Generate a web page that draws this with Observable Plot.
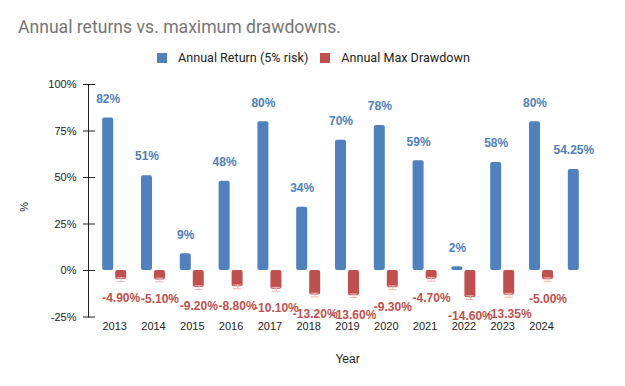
<!DOCTYPE html>
<html><head><meta charset="utf-8">
<script src="https://cdn.jsdelivr.net/npm/d3@7"></script>
<script src="https://cdn.jsdelivr.net/npm/@observablehq/plot@0.6"></script>
<style>
body{margin:0;background:#fff;}
#wrap{width:625px;height:386px;position:relative;overflow:hidden;background:#fff;}
#title{position:absolute;left:18px;top:17px;font:17.6px Roboto, sans-serif;color:#757575;white-space:nowrap;}
#legend{position:absolute;top:50px;left:157px;display:flex;align-items:center;font:12.6px Roboto, sans-serif;color:#222;white-space:nowrap;}
#legend .sw{width:10px;height:10px;display:inline-block;margin-right:11px;}
#legend .item{display:flex;align-items:center;margin-right:12px;}
#chart{position:absolute;top:70px;left:0;}
</style>
</head><body>
<div id="wrap">
<div id="title">Annual returns vs. maximum drawdowns.</div>
<div id="legend"></div>
<div id="chart"></div>
</div>
<script>
const categories = ["2013","2014","2015","2016","2017","2018","2019","2020","2021","2022","2023","2024","Average"];
const tickLabels = ["2013","2014","2015","2016","2017","2018","2019","2020","2021","2022","2023","2024",""];
const annualReturn = [82,51,9,48,80,34,70,78,59,2,58,80,54.25];
const maxDrawdown = [-4.9,-5.1,-9.2,-8.8,-10.1,-13.2,-13.6,-9.3,-4.7,-14.6,-13.35,-5.0,null];
const drawdownError = 1;
const yTicks = [-25,0,25,50,75,100];
const seriesNames = ["Annual Return (5% risk)","Annual Max Drawdown"];
const seriesColors = ["#4e81bd","#c0504d"];

const legend = document.getElementById("legend");
seriesNames.forEach((n,i)=>{
  const it = document.createElement("div"); it.className="item";
  it.innerHTML = `<span class="sw" style="background:${seriesColors[i]}"></span><span>${n}</span>`;
  legend.appendChild(it);
});

const ret = categories.map((c,i)=>({cat:c, v:annualReturn[i]}));
const dd = categories.map((c,i)=>({cat:c, v:maxDrawdown[i]})).filter(d=>d.v!=null);
const fmtR = d => (Number.isInteger(d.v) ? d.v : d.v.toFixed(2)) + "%";
const fmtD = d => d.v.toFixed(2) + "%";
const errColor = "#f2b5b5";

const chart = Plot.plot({
  width:625, height:316,
  marginLeft:88, marginRight:19, marginTop:14, marginBottom:69.5,
  x:{domain:categories, paddingInner:0.33, paddingOuter:0.34, round:false, axis:null},
  y:{domain:[-25,100], axis:null},
  style:{fontFamily:"'Liberation Sans', Arial, sans-serif", fontSize:"11px", color:"#222", background:"#fff"},
  marks:[
    Plot.axisY({ticks:yTicks, tickSize:0, tickPadding:12, tickFormat:d=>d+"%", label:null, fill:"#222"}),
    Plot.axisY({ticks:yTicks, tickSize:12, dx:7, tickFormat:()=>"", label:null, stroke:"#222"}),
    Plot.axisX({tickSize:0, tickPadding:5, tickFormat:d=>tickLabels[categories.indexOf(d)], label:null, fill:"#222"}),
    Plot.frame({anchor:"left", stroke:"#222"}),
    Plot.barY(ret, {x:"cat", y:"v", fill:seriesColors[0], insetLeft:1, insetRight:14, rx:2}),
    Plot.barY(dd, {x:"cat", y:"v", fill:seriesColors[1], insetLeft:14, insetRight:1, rx:2}),
    Plot.ruleX(dd, {x:"cat", y1:d=>d.v+drawdownError, y2:d=>d.v-drawdownError, dx:6.5, stroke:errColor}),
    Plot.tickY(dd, {x:"cat", y:d=>d.v+drawdownError, insetLeft:15.5, insetRight:2.5, stroke:errColor}),
    Plot.tickY(dd, {x:"cat", y:d=>d.v-drawdownError, insetLeft:15.5, insetRight:2.5, stroke:errColor}),
    Plot.text(ret, {x:"cat", y:"v", text:fmtR, dx:-6.5, dy:-19, fill:seriesColors[0], fontWeight:"bold", fontSize:12}),
    Plot.text(dd, {x:"cat", y:"v", text:fmtD, dx:6.5, dy:19, fill:seriesColors[1], fontWeight:"bold", fontSize:12}),
    Plot.text(["%"], {frameAnchor:"left", dx:-64, dy:11, rotate:-90, fill:"#222", fontSize:11}),
    Plot.text(["Year"], {frameAnchor:"bottom", dy:45.5, fill:"#222", fontSize:12})
  ]
});
document.getElementById("chart").appendChild(chart);
</script>
</body></html>
